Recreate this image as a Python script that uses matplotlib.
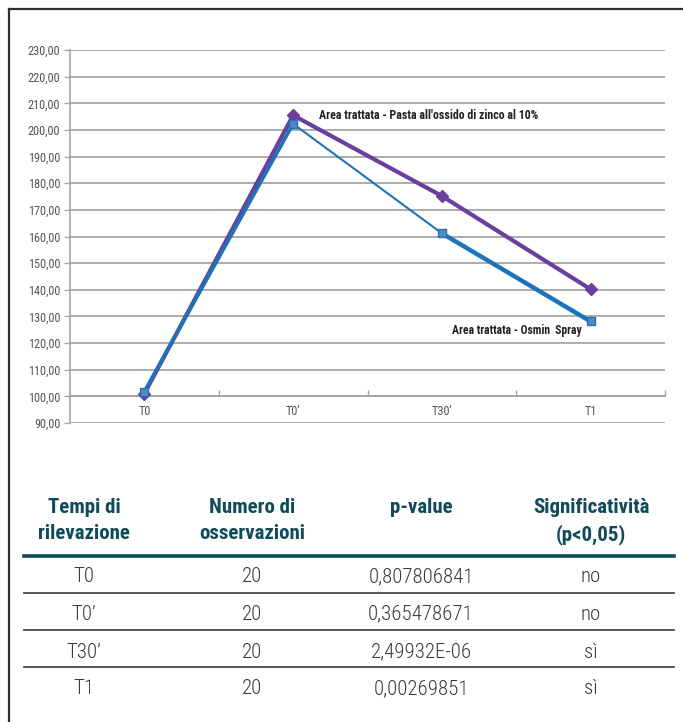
import matplotlib
matplotlib.use("Agg")
import matplotlib.pyplot as plt
from matplotlib import font_manager
from matplotlib.lines import Line2D
from matplotlib.ticker import FixedLocator, FuncFormatter

# ---- chart data ----
timepoints = ["T0", "T0'", "T30'", "T1"]
pasta_zinco = [101.0, 205.5, 175.2, 140.2]
osmin_spray = [101.8, 202.3, 161.2, 128.1]
label_pasta = "Area trattata - Pasta all'ossido di zinco al 10%"
label_osmin = "Area trattata - Osmin  Spray"

# ---- table data ----
table_headers = ["Tempi di\nrilevazione", "Numero di\nosservazioni", "p-value",
                 "Significatività\n(p<0,05)"]
table_times = ["T0", "T0’", "T30’", "T1"]
table_n_obs = ["20", "20", "20", "20"]
table_pvalues = ["0,807806841", "0,365478671", "2,49932E-06", "0,00269851"]
table_signif = ["no", "no", "sì", "sì"]


# pick a narrow sans face if one is available
def pick_font():
    entries = font_manager.fontManager.ttflist
    names = {f.name for f in entries}
    for cand in ["Liberation Sans Narrow", "Arial Narrow", "Roboto Condensed",
                 "DejaVu Sans Condensed", "Open Sans Condensed", "Noto Sans Condensed"]:
        if cand in names:
            return cand, "normal", True
    for f in entries:
        st = str(f.stretch).lower()
        if f.name in ("DejaVu Sans", "Noto Sans", "Open Sans") and (
                "condensed" in st or st in ("500", "400") and "Condensed" in f.fname):
            return f.name, "condensed", True
    for f in entries:
        if "Condensed" in f.fname or "Narrow" in f.fname:
            return f.name, "condensed", True
    return "Liberation Sans", "normal", False


FAMILY, STRETCH, NARROW = pick_font()
plt.rcParams["font.family"] = [FAMILY, "DejaVu Sans"]
plt.rcParams["font.stretch"] = STRETCH
SCALE = 1.0 if NARROW else 0.87

W, H = 683, 722
fig = plt.figure(figsize=(W / 100, H / 100), dpi=100)
fig.patch.set_facecolor("white")


def fx(px):
    return px / W


def fy(py):
    return 1 - py / H


# ---- line chart ----
ax = fig.add_axes([fx(70), fy(423), fx(665) - fx(70), fy(50) - fy(423)])
ax.set_xlim(-0.5, 3.5)
ax.set_ylim(90, 230)

grid_c = "#a6a6a6"
tick_fs = 8.8 * SCALE
ax.yaxis.set_major_locator(FixedLocator(list(range(90, 231, 10))))
ax.yaxis.set_major_formatter(FuncFormatter(lambda v, _: f"{v:.2f}".replace(".", ",")))
ax.grid(axis="y", color=grid_c, linewidth=1.3)
ax.set_axisbelow(True)
ax.tick_params(axis="y", length=4, width=1, color=grid_c, labelsize=tick_fs,
               labelcolor="#555555", pad=3)

for side in ("top", "right"):
    ax.spines[side].set_visible(False)
ax.spines["left"].set_color(grid_c)
ax.spines["left"].set_linewidth(1.2)
ax.spines["bottom"].set_position(("data", 100))
ax.spines["bottom"].set_color(grid_c)
ax.spines["bottom"].set_linewidth(1.3)

xs = list(range(len(timepoints)))
ax.set_xticks(xs)
ax.set_xticklabels(timepoints)
ax.set_xticks([i + 0.5 for i in xs], minor=True)
ax.tick_params(axis="x", which="major", length=0, labelsize=tick_fs,
               labelcolor="#555555", pad=6)
ax.tick_params(axis="x", which="minor", direction="in", length=4, width=1,
               color=grid_c)

purple = "#6a3f9e"
blue = "#1b74bb"

ax.plot(xs, pasta_zinco, color=purple, linewidth=3.0, marker="D",
        markersize=6, markerfacecolor=purple, markeredgecolor=purple,
        solid_joinstyle="round", zorder=3)

# Osmin Spray line: each segment keeps its own weight
seg_widths = [2.6, 1.5, 3.2]
for i, lw in enumerate(seg_widths):
    ax.plot(xs[i:i + 2], osmin_spray[i:i + 2], color=blue, linewidth=lw,
            solid_capstyle="round", zorder=4)
ax.plot(xs, osmin_spray, linestyle="none", marker="s", markersize=6,
        markerfacecolor="#4a8bcb", markeredgecolor="#2a6fb3",
        markeredgewidth=1, zorder=5)

ann_fs = 8.6 * (1.0 if NARROW else 0.85)
ax.annotate(label_pasta, xy=(1, pasta_zinco[1]), xytext=(18.5, -0.5),
            textcoords="offset points", ha="left", va="center",
            fontsize=ann_fs, fontweight="bold", color="#222222", zorder=6)
ax.annotate(label_osmin, xy=(3, osmin_spray[3]), xytext=(-6.5, -6.5),
            textcoords="offset points", ha="right", va="center",
            fontsize=ann_fs * 0.97, fontweight="bold", color="#222222", zorder=6)

# ---- table below the chart ----
teal = "#0f4b5a"
col_x = [84, 252, 421, 591]
tab_fs = 15 * SCALE

for cx, head in zip(col_x, table_headers):
    fig.text(fx(cx), fy(498), head, ha="center", va="top", fontsize=tab_fs,
             fontweight="bold", color=teal, linespacing=1.45)

fig.add_artist(Line2D([fx(24), fx(674)], [fy(556), fy(556)],
                      transform=fig.transFigure, color=teal, linewidth=2.6))

row_y = [577, 614, 652, 689]
for r, y in enumerate(row_y):
    cells = [table_times[r], table_n_obs[r], table_pvalues[r], table_signif[r]]
    for cx, val in zip(col_x, cells):
        fig.text(fx(cx), fy(y), val, ha="center", va="center", fontsize=tab_fs,
                 fontweight="light", color="#3a3a3a")

for y in [593, 630, 667]:
    fig.add_artist(Line2D([fx(24), fx(674)], [fy(y), fy(y)],
                          transform=fig.transFigure, color="#4a4a4a",
                          linewidth=1.3))

# ---- outer frame (left and top edges) ----
frame_c = "#2e2e2e"
fig.add_artist(Line2D([fx(9), fx(9)], [fy(9), 0], transform=fig.transFigure,
                      color=frame_c, linewidth=1.6))
fig.add_artist(Line2D([fx(9), 1], [fy(9), fy(9)], transform=fig.transFigure,
                      color=frame_c, linewidth=1.6))

fig.savefig("out.png", dpi=100, facecolor="white")
